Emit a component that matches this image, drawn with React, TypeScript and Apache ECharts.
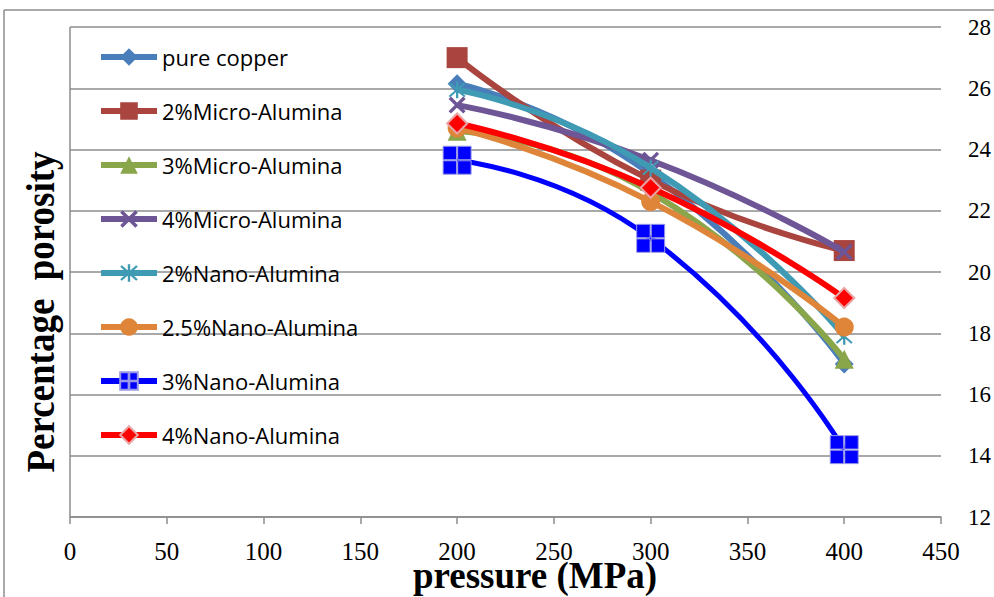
import React, { useEffect, useRef } from "react";
import * as echarts from "echarts";

const pressures = [200, 300, 400];
const seriesNames = [
  "pure copper",
  "2%Micro-Alumina",
  "3%Micro-Alumina",
  "4%Micro-Alumina",
  "2%Nano-Alumina",
  "2.5%Nano-Alumina",
  "3%Nano-Alumina",
  "4%Nano-Alumina",
];
const pureCopper = [26.15, 23.2, 17.0];
const micro2 = [27.0, 23.0, 20.7];
const micro3 = [24.6, 22.6, 17.15];
const micro4 = [25.45, 23.65, 20.65];
const nano2 = [25.95, 23.4, 17.9];
const nano25 = [24.7, 22.3, 18.2];
const nano3 = [23.65, 21.1, 14.2];
const nano4 = [24.85, 22.75, 19.15];
const yTicks = [12, 14, 16, 18, 20, 22, 24, 26, 28];
const xTicks = [0, 50, 100, 150, 200, 250, 300, 350, 400, 450];

const X_PATH = "path://M0,1.4L1.4,0L10,8.6L8.6,10Z M8.6,0L10,1.4L1.4,10L0,8.6Z";
const STAR_PATH =
  "path://M4.4,0H5.6V10H4.4Z M0.6,1.4L1.4,0.6L9.4,8.6L8.6,9.4Z M8.6,0.6L9.4,1.4L1.4,9.4L0.6,8.6Z";
const QUAD_PATH =
  "path://M0,0H9.6V9.6H0Z M10.4,0H20V9.6H10.4Z M0,10.4H9.6V20H0Z M10.4,10.4H20V20H10.4Z";

export default function App() {
  const ref = useRef<HTMLDivElement>(null);
  useEffect(() => {
    if (!ref.current) return;
    const chart = echarts.init(ref.current, null, { renderer: "svg" });
    const values = [pureCopper, micro2, micro3, micro4, nano2, nano25, nano3, nano4];
    const colors = ["#4A7EBB", "#A9443F", "#8AA64B", "#6E5595", "#3F9AB3", "#DE853A", "#0000FF", "#FF0000"];
    const symbols = ["diamond", "rect", "triangle", X_PATH, STAR_PATH, "circle", QUAD_PATH, "diamond"];
    const sizes = [19, 21, 19, 17, 17, 19, 28, 20];
    const widths = [6, 6, 6, 6, 6, 6, 5, 6];
    const series = seriesNames.map((name, i) => ({
      name,
      type: "line",
      smooth: 0.55,
      data: pressures.map((p, j) => [p, values[i][j]]),
      symbol: symbols[i],
      symbolSize: sizes[i],
      lineStyle: { color: colors[i], width: widths[i] },
      itemStyle: {
        color: colors[i],
        borderColor: i === 7 ? "#E9A3A3" : i === 6 ? "#9A9AE6" : colors[i],
        borderWidth: i === 7 ? 2 : i === 6 ? 1 : 0,
      },
      emphasis: { disabled: true },
      z: i === 6 ? 1 : 2 + i,
    }));
    chart.setOption({
      animation: false,
      backgroundColor: "#ffffff",
      grid: { left: 70, right: 50, top: 27, bottom: 80 },
      legend: {
        orient: "vertical",
        left: 98,
        top: 46,
        padding: 0,
        itemWidth: 56,
        itemHeight: 22,
        itemGap: 32,
        data: seriesNames,
        lineStyle: { width: 6 },
        textStyle: { fontFamily: "Open Sans", fontSize: 22, color: "#000" },
      },
      xAxis: {
        type: "value",
        min: 0,
        max: 450,
        interval: 50,
        axisLine: { show: true, lineStyle: { color: "#8c8c8c", width: 1.5 } },
        axisTick: { show: true, length: 7, lineStyle: { color: "#8c8c8c", width: 1.5 } },
        axisLabel: {
          margin: 22,
          fontFamily: "Liberation Sans Narrow",
          fontSize: 25,
          color: "#000",
          formatter: (v: number) => (xTicks.includes(v) ? String(v) : ""),
        },
        splitLine: { show: false },
      },
      yAxis: {
        type: "value",
        position: "right",
        min: 12,
        max: 28,
        interval: 2,
        axisLine: { show: false },
        axisTick: { show: false },
        axisLabel: {
          margin: 27,
          fontFamily: "Liberation Sans Narrow",
          fontSize: 23,
          color: "#000",
          formatter: (v: number) => (yTicks.includes(v) ? String(v) : ""),
        },
        splitLine: { show: true, lineStyle: { color: "#8c8c8c", width: 1.5 } },
      },
      graphic: [
        { type: "line", shape: { x1: 4, y1: 10, x2: 994, y2: 10 }, style: { stroke: "#8c8c8c", lineWidth: 1.5 } },
        { type: "line", shape: { x1: 4, y1: 10, x2: 4, y2: 597 }, style: { stroke: "#8c8c8c", lineWidth: 1.5 } },
        { type: "line", shape: { x1: 70, y1: 27, x2: 70, y2: 517 }, style: { stroke: "#8c8c8c", lineWidth: 1.5 } },
        {
          type: "text",
          x: 40,
          y: 312,
          rotation: Math.PI / 2,
          scaleY: 1.1,
          style: {
            text: "Percentage  porosity",
            fontFamily: "Liberation Serif",
            fontWeight: "bold",
            fontSize: 37,
            fill: "#000",
            align: "center",
            verticalAlign: "middle",
          },
        },
        {
          type: "text",
          x: 535,
          y: 575,
          scaleY: 1.05,
          style: {
            text: "pressure (MPa)",
            fontFamily: "Liberation Serif",
            fontWeight: "bold",
            fontSize: 37,
            fill: "#000",
            align: "center",
            verticalAlign: "middle",
          },
        },
      ],
      series,
    });
    return () => chart.dispose();
  }, []);
  return <div ref={ref} style={{ width: 994, height: 597, position: "absolute", left: 0, top: 0 }} />;
}
